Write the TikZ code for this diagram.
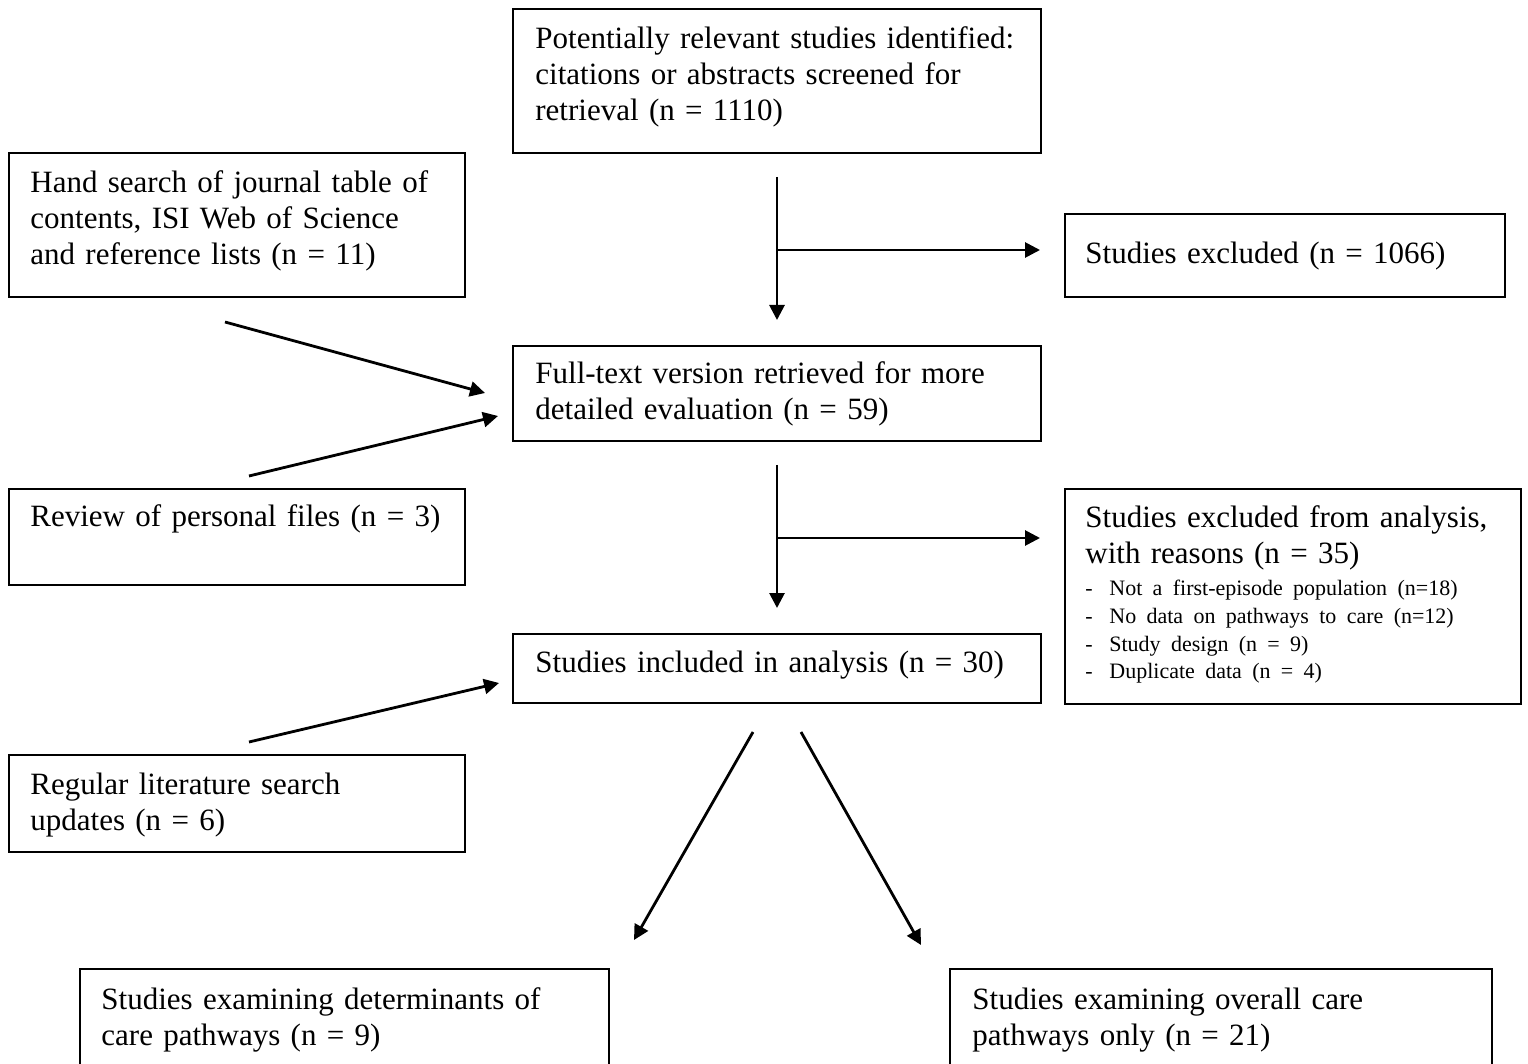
\documentclass[tikz,border=0pt]{standalone}
\usepackage{fontspec}
\setmainfont{Liberation Serif}
\usetikzlibrary{arrows.meta}
\begin{document}
\begin{tikzpicture}[x=0.5pt,y=-0.5pt,
  box/.style={draw=black, line width=1.1pt, rectangle, inner sep=0pt, outer sep=0pt, anchor=north west},
  txt/.style={anchor=base west, inner sep=0pt, align=left, text width=300pt, font=\fontsize{15.5}{18}\selectfont},
  arr/.style={line width=1.4pt, -{Triangle[length=7.5pt,width=7.5pt]}}]
\useasboundingbox (0,0) rectangle (1528,1064);
\fill[white] (0,0) rectangle (1528,1064);
\clip (0,0) rectangle (1528,1064);

% boxes
\node[box, minimum width=264pt, minimum height=72pt] (b1) at (513,9) {};
\node[box, minimum width=228pt, minimum height=72pt] (b2) at (9,153) {};
\node[box, minimum width=220pt, minimum height=41.5pt] (b3) at (1065,214) {};
\node[box, minimum width=264pt, minimum height=47.5pt] (b4) at (513,346) {};
\node[box, minimum width=228pt, minimum height=48pt] (b5) at (9,489) {};
\node[box, minimum width=228pt, minimum height=107.5pt] (b6) at (1065,489) {};
\node[box, minimum width=264pt, minimum height=34.5pt] (b7) at (513,634) {};
\node[box, minimum width=228pt, minimum height=48.5pt] (b8) at (9,755) {};
\node[box, minimum width=264.5pt, minimum height=65.5pt] (b9) at (80,969) {};
\node[box, minimum width=271pt, minimum height=65.5pt] (b10) at (950,969) {};

% texts
\node[txt] (t1) at (535,49) {Potentially relevant studies identified:\\ citations or abstracts screened for\\ retrieval (n = 1110)};
\node[txt] (t2) at (30,193) {Hand search of journal table of\\ contents, ISI Web of Science\\ and reference lists (n = 11)};
\node[txt] (t3) at (1085,264) {Studies excluded (n = 1066)};
\node[txt] (t4) at (535,384) {Full-text version retrieved for more\\ detailed evaluation (n = 59)};
\node[txt] (t5) at (30,527) {Review of personal files (n = 3)};
\node[txt] (t6) at (1085,528) {{\fontsize{15.5}{18}\selectfont Studies excluded from analysis,\\ with reasons (n = 35)\par}
  \vspace{2.2pt}
  {\fontsize{11}{13.8}\selectfont
  \makebox[12pt][l]{-}Not a first-episode population (n=18)\\
  \makebox[12pt][l]{-}No data on pathways to care (n=12)\\
  \makebox[12pt][l]{-}Study design (n = 9)\\
  \makebox[12pt][l]{-}Duplicate data (n = 4)\par}};
\node[txt] (t7) at (535,672) {Studies included in analysis (n = 30)};
\node[txt] (t8) at (30,794) {Regular literature search\\ updates (n = 6)};
\node[txt] (t9) at (101,1009) {Studies examining determinants of\\ care pathways (n = 9)};
\node[txt] (t10) at (972,1009) {Studies examining overall care\\ pathways only (n = 21)};

% connector end points
\coordinate (a1s) at (777,177);
\coordinate (a1e) at (777,320);
\coordinate (a1m) at (777,250);
\coordinate (a1r) at (1040,250);
\coordinate (a2s) at (225,322);
\coordinate (a2e) at (485,393);
\coordinate (a3s) at (249,476);
\coordinate (a3e) at (498,416);
\coordinate (a4s) at (777,465);
\coordinate (a4e) at (777,608);
\coordinate (a4m) at (777,538);
\coordinate (a4r) at (1040,538);
\coordinate (a5s) at (249,742);
\coordinate (a5e) at (499,683);
\coordinate (a6s) at (753,732);
\coordinate (a6e) at (634,940);
\coordinate (a7s) at (801,732);
\coordinate (a7e) at (921,945);

\draw[arr] (a1s) -- (a1e);
\draw[arr] (a1m) -- (a1r);
\draw[arr] (a2s) -- (a2e);
\draw[arr] (a3s) -- (a3e);
\draw[arr] (a4s) -- (a4e);
\draw[arr] (a4m) -- (a4r);
\draw[arr] (a5s) -- (a5e);
\draw[arr] (a6s) -- (a6e);
\draw[arr] (a7s) -- (a7e);
\end{tikzpicture}
\end{document}
